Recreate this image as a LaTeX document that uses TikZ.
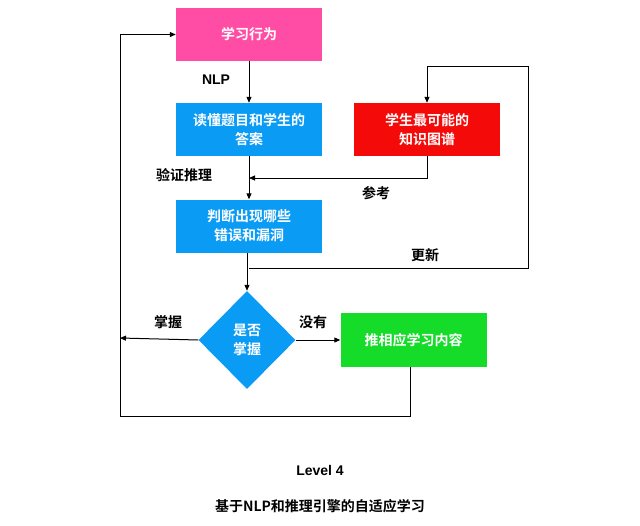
\documentclass[tikz,border=0pt]{standalone}
\usepackage{fontspec}
\setmainfont{Liberation Sans}
\newfontfamily\cjk{Noto Sans CJK SC}[BoldFont={Noto Sans CJK SC Bold}]
\usetikzlibrary{shapes.geometric,arrows.meta}
\definecolor{pinkc}{HTML}{FF4DA6}
\definecolor{bluec}{HTML}{0A9BF5}
\definecolor{redc}{HTML}{F50A0A}
\definecolor{greenc}{HTML}{14DC28}
\begin{document}
\begin{tikzpicture}[x=1pt,y=-1pt,
 box/.style={draw=none,minimum width=146pt,minimum height=53pt,align=center,text=white,font=\cjk\bfseries\fontsize{14}{19}\selectfont},
 lbl/.style={font=\cjk\bfseries\fontsize{14}{17}\selectfont},
 ln/.style={line width=1pt},
 arr/.style={line width=1pt,-{Triangle[length=6pt,width=5pt]}}]
\useasboundingbox (0,0) rectangle (640,525);
\node[box,fill=pinkc] (a) at (249,34.5) {学习行为};
\node[box,fill=bluec] (b) at (249,129.5) {读懂题目和学生的\\答案};
\node[box,fill=redc] (r) at (427,129.5) {学生最可能的\\知识图谱};
\node[box,fill=bluec] (c) at (249,226) {判断出现哪些\\错误和漏洞};
\node[diamond,fill=bluec,minimum width=97pt,minimum height=98pt,inner sep=0pt,align=center,text=white,font=\cjk\bfseries\fontsize{14}{19}\selectfont] (d) at (247,340) {是否\\掌握};
\node[box,fill=greenc,minimum height=54pt] (g) at (413.5,340) {推相应学习内容};
\coordinate (j1) at (249,178);
\coordinate (j2) at (249,268);
\coordinate (rt) at (528,66);
\coordinate (lt) at (120,338);
\coordinate (lb) at (120,416);
\draw[arr] (a) -- (b);
\draw[arr] (b) -- (c);
\draw[arr] (c.south -| d.north) -- (d.north);
\draw[arr] (r.south) |- (j1);
\draw[ln] (j2) -| (rt);
\draw[arr] (rt) -| (r.north);
\draw[arr] (d.east) -- (g.west);
\draw[arr] (d.west) -- (lt);
\draw[ln] (g.south -| 410,0) |- (lb);
\draw[arr] (lb) |- (a.west);
\node[font=\bfseries\fontsize{14}{17}\selectfont] (nlp) at (216,80) {NLP};
\node[lbl] (l1) at (184,175) {验证推理};
\node[lbl] (l2) at (376,193) {参考};
\node[lbl] (l3) at (425,255) {更新};
\node[lbl] (l4) at (168,322) {掌握};
\node[lbl] (l5) at (313,322) {没有};
\node[font=\bfseries\fontsize{14}{17}\selectfont] (t1) at (320,470) {Level 4};
\node[font=\cjk\bfseries\fontsize{14}{17}\selectfont] (t2) at (320,506) {基于NLP和推理引擎的自适应学习};
\end{tikzpicture}
\end{document}
